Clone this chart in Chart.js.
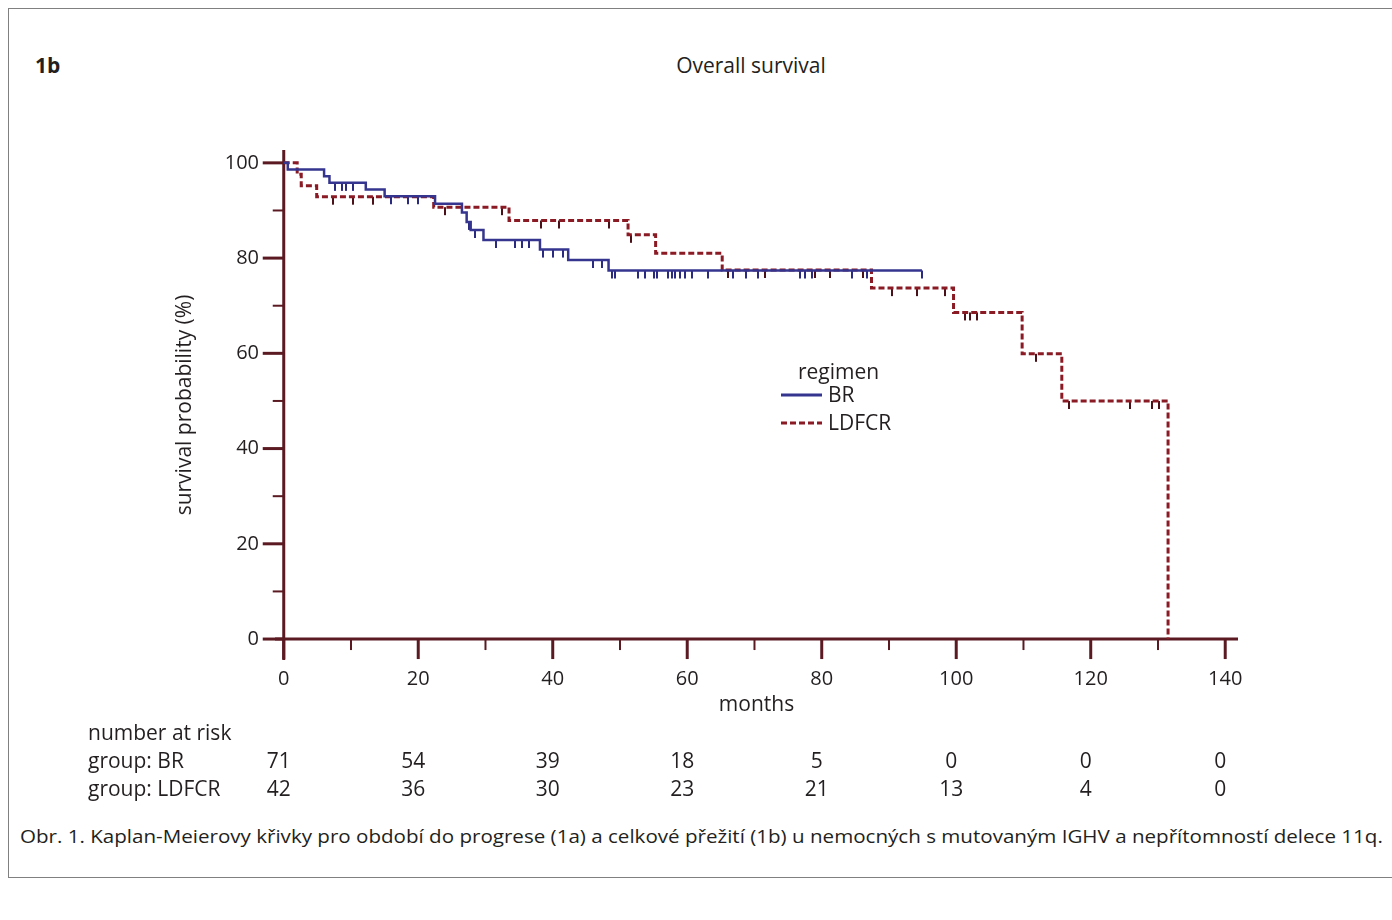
<!DOCTYPE html>
<html>
<head>
<meta charset="utf-8">
<script src="https://cdn.jsdelivr.net/npm/chart.js@4.4.1/dist/chart.umd.min.js"></script>
<style>
  html, body { margin: 0; padding: 0; background: #fff; }
  body { width: 1392px; height: 920px; position: relative; overflow: hidden; font-family: "Open Sans", sans-serif; color: #231f20; }
  #frame { position: absolute; left: 8px; top: 8px; width: 1384px; height: 870px; border: 1px solid #808080; border-right: none; box-sizing: border-box; }
  #tag { position: absolute; left: 35px; top: 52px; font-weight: bold; font-size: 21px; line-height: 26px; }
  #title { position: absolute; left: 551px; top: 52px; width: 400px; text-align: center; font-size: 21px; line-height: 26px; }
  #caption { position: absolute; left: 20px; top: 823px; font-size: 19px; line-height: 26px; white-space: nowrap; transform-origin: left center; }
  canvas { position: absolute; left: 0; top: 0; }
</style>
</head>
<body>
<div id="frame"></div>
<div id="tag">1b</div>
<div id="title">Overall survival</div>
<div id="caption">Obr. 1. Kaplan-Meierovy křivky pro období do progrese (1a) a celkové přežití (1b) u nemocných s mutovaným IGHV a nepřítomností delece 11q.</div>
<canvas id="km" width="1392" height="920"></canvas>
<script>
// axis ticks
const xTicks = [0, 20, 40, 60, 80, 100, 120, 140];
const yTicks = [0, 20, 40, 60, 80, 100];

// BR curve (months, survival %)
const brTimes = [0, 0.6, 6.0, 6.8, 12.2, 15.0, 22.5, 26.5, 27.2, 27.8, 29.7, 38.1, 42.3, 48.3, 94.9];
const brSurv  = [100, 98.6, 97.2, 95.8, 94.4, 93.0, 91.4, 89.6, 87.6, 85.9, 83.8, 81.8, 79.6, 77.4, 77.4];
const brCensor = [7.6, 8.6, 9.3, 10.3, 16, 18.5, 20, 27.5, 28.4, 31.6, 34.4, 35.4, 36.4, 38.5, 40.1, 41.6,
  46, 47.3, 48.8, 49.3, 52.7, 53.7, 55, 55.5, 57.2, 57.7, 58.2, 58.9, 59.7, 60.7, 63.1, 66.8, 68.8,
  70.5, 76.8, 77.5, 78.5, 84.5, 86.7, 94.9];

// LDFCR curve
const ldTimes = [0, 2.0, 2.6, 4.9, 22.3, 33.5, 51.2, 55.3, 65.2, 87.4, 99.6, 109.8, 115.7, 131.5];
const ldSurv  = [100, 97.6, 95.2, 92.9, 90.7, 87.9, 84.9, 81.0, 77.5, 73.7, 68.6, 59.9, 50.0, 0];
const ldCensor = [7.3, 10.3, 13.3, 24, 32.4, 38.3, 41, 48.3, 51.6, 66.1, 71.5, 79, 81.3, 86.2,
  90.4, 94.1, 98.4, 101.3, 102.1, 103.1, 111.8, 116.7, 125.9, 129.1, 130.1];

// number at risk
const riskBR = [71, 54, 39, 18, 5, 0, 0, 0];
const riskLD = [42, 36, 30, 23, 21, 13, 4, 0];

const blue = '#35358f';
const red = '#8a1a24';
const axisColor = '#5b1a22';
const textColor = '#231f20';
const fam = '"Open Sans", sans-serif';

function survAt(times, surv, t) {
  let s = surv[0];
  for (let i = 0; i < times.length; i++) if (times[i] <= t) s = surv[i];
  return s;
}
function censorMark(color) {
  const c = document.createElement('canvas');
  c.width = 2; c.height = 18;
  const g = c.getContext('2d');
  g.fillStyle = color;
  g.fillRect(0, 9, 2, 8);
  return c;
}

const cap = document.getElementById('caption');
cap.style.transform = 'scaleX(' + (1363 / cap.offsetWidth) + ')';

const axesPlugin = {
  id: 'kmAxes',
  beforeDatasetsDraw(chart) {
    const {ctx, chartArea: a, scales: {x, y}} = chart;
    const x0 = x.getPixelForValue(0), y0 = y.getPixelForValue(0);
    ctx.save();
    ctx.strokeStyle = axisColor;
    ctx.lineWidth = 3;
    ctx.beginPath();
    ctx.moveTo(x0, a.top); ctx.lineTo(x0, a.bottom);
    ctx.moveTo(a.left, y0); ctx.lineTo(a.right, y0);
    ctx.stroke();
    for (let v = 0; v <= 140; v += 10) {
      const px = x.getPixelForValue(v);
      const major = v % 20 === 0;
      ctx.lineWidth = major ? 3 : 2;
      ctx.beginPath(); ctx.moveTo(px, y0); ctx.lineTo(px, y0 + (major ? 20 : 11)); ctx.stroke();
    }
    for (let v = 0; v <= 100; v += 10) {
      const py = y.getPixelForValue(v);
      const major = v % 20 === 0;
      ctx.lineWidth = major ? 3 : 2;
      ctx.beginPath(); ctx.moveTo(x0, py); ctx.lineTo(x0 - (major ? 21 : 11), py); ctx.stroke();
    }
    ctx.restore();
  },
  afterDraw(chart) {
    const {ctx, scales: {x}} = chart;
    ctx.save();
    ctx.fillStyle = textColor;
    ctx.font = '21px ' + fam;
    ctx.textBaseline = 'middle';
    ctx.textAlign = 'left';
    ctx.fillText('number at risk', 88, 734);
    ctx.fillText('group: BR', 88, 762);
    ctx.fillText('group: LDFCR', 88, 790);
    ctx.textAlign = 'center';
    xTicks.forEach((v, i) => {
      const px = x.getPixelForValue(v);
      ctx.fillText(String(riskBR[i]), px - 5, 762);
      ctx.fillText(String(riskLD[i]), px - 5, 790);
    });
    // legend
    ctx.textAlign = 'left';
    ctx.fillText('regimen', 798, 373);
    ctx.fillText('BR', 828, 396);
    ctx.fillText('LDFCR', 828, 424);
    ctx.lineWidth = 3;
    ctx.strokeStyle = blue;
    ctx.beginPath(); ctx.moveTo(781, 395); ctx.lineTo(822, 395); ctx.stroke();
    ctx.strokeStyle = red;
    ctx.setLineDash([6, 3]);
    ctx.beginPath(); ctx.moveTo(781, 423); ctx.lineTo(822, 423); ctx.stroke();
    ctx.restore();
  }
};

const brLine = brTimes.map((t, i) => ({x: t, y: brSurv[i]}));
const ldLine = ldTimes.map((t, i) => ({x: t, y: ldSurv[i]}));
const brCens = brCensor.map(t => ({x: t, y: survAt(brTimes, brSurv, t)}));
const ldCens = ldCensor.map(t => ({x: t, y: survAt(ldTimes, ldSurv, t)}));

new Chart(document.getElementById('km'), {
  type: 'line',
  data: {
    datasets: [
      { label: 'BR', data: brLine, borderColor: blue, borderWidth: 2.5, stepped: 'before', pointRadius: 0, fill: false, clip: false },
      { label: 'BR censored', data: brCens, showLine: false, pointStyle: censorMark('#2a2a80'), pointRadius: 4, borderColor: blue, backgroundColor: blue },
      { label: 'LDFCR', data: ldLine, borderColor: red, borderWidth: 3, borderDash: [6, 3], stepped: 'before', pointRadius: 0, fill: false, clip: false },
      { label: 'LDFCR censored', data: ldCens, showLine: false, pointStyle: censorMark('#4a1218'), pointRadius: 4, borderColor: red, backgroundColor: red }
    ]
  },
  options: {
    responsive: false,
    animation: false,
    devicePixelRatio: 1,
    layout: { padding: { left: 0, top: 150, right: 154, bottom: 200 } },
    plugins: { legend: { display: false }, tooltip: { enabled: false } },
    scales: {
      x: {
        type: 'linear', min: -1.3, max: 141.9,
        afterBuildTicks: s => { s.ticks = xTicks.map(v => ({value: v})); },
        afterFit: s => { s.height = 60; },
        grid: { display: false, drawTicks: false },
        border: { display: false },
        ticks: { padding: 7, color: textColor, font: { size: 20, family: fam } },
        title: { display: true, text: 'months', color: textColor, font: { size: 21, family: fam }, padding: { top: 0, bottom: 2 } }
      },
      y: {
        type: 'linear', min: -4.4, max: 102.7,
        afterBuildTicks: s => { s.ticks = yTicks.map(v => ({value: v})); },
        afterFit: s => { s.width = 275; },
        grid: { display: false, drawTicks: false },
        border: { display: false },
        ticks: { padding: 16, color: textColor, font: { size: 20, family: fam } },
        title: { display: true, text: 'survival probability (%)', color: textColor, font: { size: 21, family: fam }, padding: { top: 172, bottom: 0 } }
      }
    }
  },
  plugins: [axesPlugin]
});
</script>
</body>
</html>
